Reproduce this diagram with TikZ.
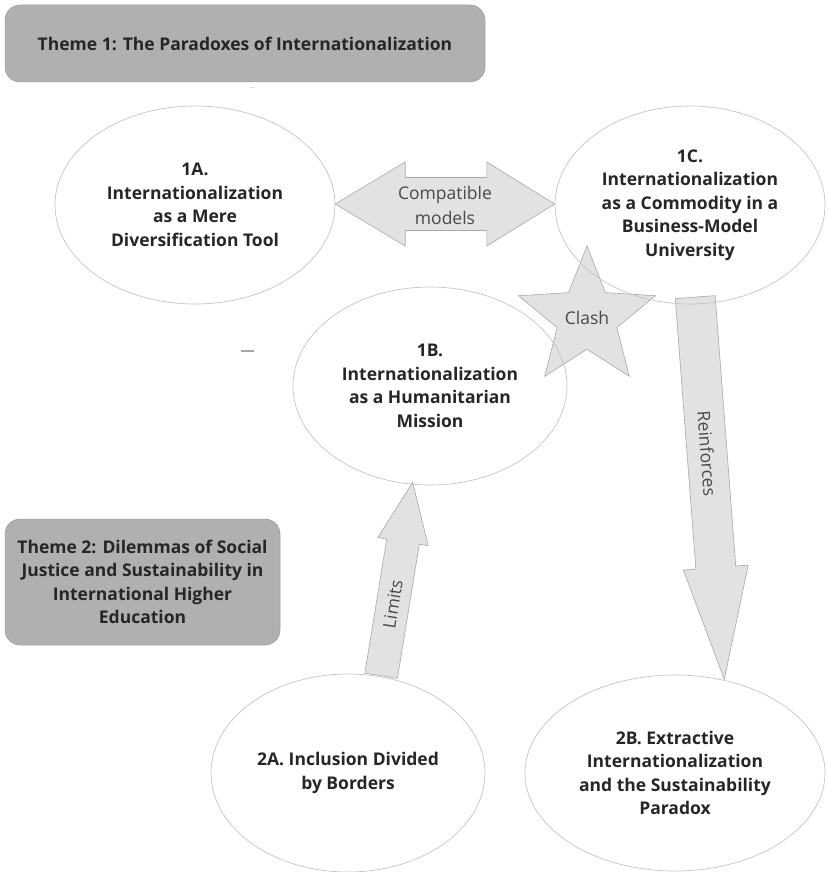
\documentclass[tikz,border=0pt]{standalone}
\usepackage{fontspec}
\setmainfont{Open Sans}
\usetikzlibrary{shapes.geometric,calc}
\definecolor{boxgray}{HTML}{B0B0B0}
\definecolor{boxedge}{HTML}{9A9A9A}
\definecolor{arrowgray}{HTML}{E2E2E2}
\definecolor{edgegray}{HTML}{A8A8A8}
\definecolor{ellgray}{HTML}{C4C4C4}
\definecolor{txt}{HTML}{262626}
\definecolor{lbl}{HTML}{4A4A4A}
\newcommand{\blockarr}[5]{%
  \coordinate (hb) at ($(#2)!#5!(#1)$);
  \draw[blockarrow] ($(#1)!#3!90:(#2)$) -- ($(hb)!#3!90:(#2)$) -- ($(hb)!#4!90:(#2)$) -- (#2)
    -- ($(hb)!#4!-90:(#2)$) -- ($(hb)!#3!-90:(#2)$) -- ($(#1)!#3!-90:(#2)$) -- cycle;}
\begin{document}
\begin{tikzpicture}[x=1pt,y=-1pt,
  theme/.style={draw=boxedge, line width=0.5pt, fill=boxgray, rounded corners=15pt, text=txt,
    font=\bfseries\fontsize{17.5}{23.5}\selectfont, align=center, inner sep=0pt},
  bubble/.style={ellipse, draw=ellgray, line width=0.7pt, text=txt,
    font=\bfseries\fontsize{17.5}{23.5}\selectfont, align=center, inner sep=0pt},
  blockarrow/.style={fill=arrowgray, draw=edgegray, line width=0.6pt, line join=miter},
  arrowlabel/.style={text=lbl, font=\fontsize{17.5}{25}\selectfont, inner sep=0pt, align=center}]
\useasboundingbox (0,0) rectangle (827,872);

% anchor-only ellipse nodes
\path
  node[ellipse, inner sep=0pt, minimum width=280pt, minimum height=198pt] (n1A) at (195,204) {}
  node[ellipse, inner sep=0pt, minimum width=270pt, minimum height=198pt] (n1C) at (690,204) {}
  node[ellipse, inner sep=0pt, minimum width=274pt, minimum height=198pt] (n1B) at (430,384) {}
  node[ellipse, inner sep=0pt, minimum width=274pt, minimum height=198pt] (n2A) at (348,772) {}
  node[ellipse, inner sep=0pt, minimum width=300pt, minimum height=196pt] (n2B) at (675,772) {};

% compatible models double arrow
\coordinate (cL) at (n1A.east);
\coordinate (cR) at (n1C.west);
\draw[blockarrow] (cL) -- ($(cL)+(70,-42)$) -- ($(cL)+(70,-26.5)$) -- ($(cR)+(-68,-26.5)$)
  -- ($(cR)+(-68,-42)$) -- (cR) -- ($(cR)+(-68,42)$) -- ($(cR)+(-68,26.5)$)
  -- ($(cL)+(70,26.5)$) -- ($(cL)+(70,42)$) -- cycle;
\node[arrowlabel] (compat) at ($(cL)!0.5!(cR)+(0,1.5)$) {Compatible\\models};

% Limits arrow
\coordinate (limtail) at (n2A.71);
\coordinate (limtip) at (n1B.-100.3);
\blockarr{limtail}{limtip}{16.5pt}{25.5pt}{60pt}
\path (limtail) -- (limtip) node[pos=0.37, sloped, arrowlabel] (limits) {Limits};

% Reinforces arrow
\coordinate (reitail) at ($(n1C.-87)+(0,-6)$);
\coordinate (reitip) at (n2B.62);
\blockarr{reitail}{reitip}{20pt}{32.5pt}{112pt}
\path (reitail) -- (reitip) node[pos=0.41, sloped, arrowlabel] (reinf) {Reinforces};

% Clash star
\node[star, star points=5, star point ratio=2.3, minimum size=140pt, fill=arrowgray,
  draw=edgegray, line width=0.6pt, arrowlabel] (clash) at (587,318) {Clash};

% ellipses
\node[bubble, minimum width=280pt, minimum height=198pt] (e1A) at (195,205)
  {1A.\\Internationalization\\as a Mere\\Diversification Tool};
\node[bubble, minimum width=270pt, minimum height=198pt] (e1C) at (690,205)
  {1C.\\Internationalization\\as a Commodity in a\\Business-Model\\University};
\node[bubble, minimum width=274pt, minimum height=198pt] (e1B) at (430,386)
  {1B.\\Internationalization\\as a Humanitarian\\Mission};
\node[bubble, minimum width=274pt, minimum height=198pt] (e2A) at (348,773)
  {2A. Inclusion Divided\\by Borders};
\node[bubble, minimum width=300pt, minimum height=196pt] (e2B) at (675,773)
  {2B. Extractive\\Internationalization\\and the Sustainability\\Paradox};

% theme boxes
\node[theme, minimum width=480pt, minimum height=77pt] (t1) at (245,43.5)
  {Theme 1: The Paradoxes of Internationalization};
\node[theme, minimum width=275pt, minimum height=126pt] (t2) at (142.5,582)
  {Theme 2: Dilemmas of Social\\Justice and Sustainability in\\International Higher\\Education};

% small stray marks
\draw[gray!70, line width=1.2pt] (241,351) -- (254,351);
\draw[gray!30, line width=1pt] (250,87.5) -- (255,87.5);
\end{tikzpicture}
\end{document}
